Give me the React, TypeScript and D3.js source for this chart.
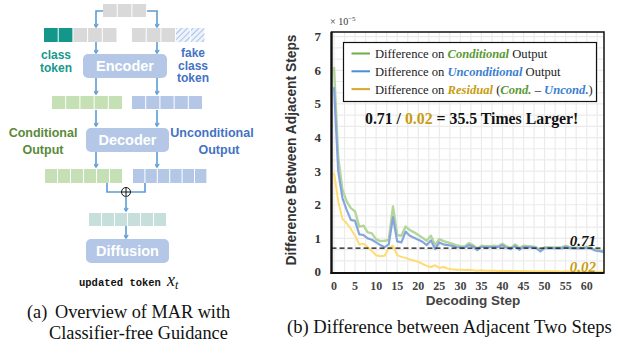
import React from 'react';
import * as d3 from 'd3';

// chart (b): difference between adjacent decoding steps, in units of 1e-5
const condValues = [
  6.1, 3.4, 2.45, 2.1, 1.9, 1.8, 1.35, 1.38, 1.18, 1.15, 0.97, 0.92, 0.93, 0.95, 1.95, 1.1, 1.08,
  1.35, 1.25, 1.18, 1.1, 1.02, 0.93, 1.08, 0.8, 0.98, 0.92, 0.88, 0.84, 0.8, 0.77, 0.76, 0.86,
  0.8, 0.7, 0.78, 0.77, 0.77, 0.78, 0.77, 0.84, 0.76, 0.72, 0.82, 0.72, 0.78, 0.77, 0.76, 0.74,
  0.64, 0.74, 0.74, 0.73, 0.73, 0.73, 0.78, 0.74, 0.72, 0.72, 0.72, 0.75, 0.72, 0.66, 0.64, 0.62,
];
const uncondValues = [
  5.5, 3.0, 2.2, 1.85, 1.55, 1.52, 1.12, 1.1, 1.0, 0.96, 0.88, 0.8, 0.74, 0.82, 1.63, 0.91, 0.88,
  1.2, 1.08, 1.02, 0.96, 0.9, 0.8, 0.94, 0.68, 0.88, 0.82, 0.8, 0.78, 0.74, 0.73, 0.72, 0.8,
  0.76, 0.65, 0.75, 0.73, 0.74, 0.74, 0.74, 0.8, 0.72, 0.68, 0.78, 0.66, 0.75, 0.74, 0.73, 0.71,
  0.61, 0.71, 0.71, 0.71, 0.7, 0.7, 0.75, 0.71, 0.7, 0.7, 0.7, 0.72, 0.7, 0.64, 0.62, 0.6,
];
const residualValues = [
  2.95, 2.1, 1.58, 1.45, 1.28, 1.08, 0.82, 0.84, 0.74, 0.62, 0.5, 0.47, 0.48, 0.72, 0.78, 0.5, 0.45,
  0.42, 0.37, 0.34, 0.3, 0.24, 0.18, 0.15, 0.2, 0.12, 0.15, 0.1, 0.08, 0.07, 0.07, 0.06, 0.07,
  0.05, 0.04, 0.05, 0.04, 0.04, 0.04, 0.03, 0.04, 0.03, 0.03, 0.03, 0.02, 0.03, 0.02, 0.02, 0.02,
  0.02, 0.02, 0.02, 0.02, 0.02, 0.01, 0.02, 0.01, 0.01, 0.01, 0.01, 0.01, 0.01, 0.01, 0.01, 0.01,
];
const meanDiff = 0.71;
const xTicks = [0, 5, 10, 15, 20, 25, 30, 35, 40, 45, 50, 55, 60];
const yTicks = [0, 1, 2, 3, 4, 5, 6, 7];

// diagram (a) token rows
const topRow = ['grey', 'grey', 'grey'];
const condInRow = ['teal', 'teal', 'grey', 'grey', 'grey'];
const uncondInRow = ['grey', 'grey', 'grey', 'hatch', 'hatch'];

const serif = "'Liberation Serif', 'Times New Roman', serif";
const sans = "'Liberation Sans', Arial, sans-serif";
const arrowBlue = '#5b9bd5';
const cellColor: Record<string, string> = {
  grey: '#d9d9d9',
  teal: '#13978b',
  green: '#c5e0b4',
  blue: '#b4c7e7',
  mint: '#c7dfdb',
  hatch: 'url(#hatch)',
};

const Cells = ({ x0, y0, w, h, kinds }: { x0: number; y0: number; w: number; h: number; kinds: string[] }) => (
  <g>
    {kinds.map((k, i) => (
      <rect key={i} x={x0 + i * w} y={y0} width={w - 1} height={h} fill={cellColor[k]} />
    ))}
  </g>
);

const Arrow = ({ d }: { d: string }) => (
  <path d={d} fill="none" stroke={arrowBlue} strokeWidth={1.6} markerEnd="url(#head)" />
);

const Box = ({ x, y, w, h, label }: { x: number; y: number; w: number; h: number; label: string }) => (
  <g>
    <rect x={x} y={y} width={w} height={h} rx={5} fill="#b4c7e7" />
    <text x={x + w / 2} y={y + h / 2 + 5} textAnchor="middle" fill="#fff" fontFamily={sans}
      fontWeight="bold" fontSize={14.5}>{label}</text>
  </g>
);

export default function App() {
  const x = d3.scaleLinear().domain([-0.6, 64.1]).range([331.5, 604]);
  const y = d3.scaleLinear().domain([-0.03, 7.14]).range([273, 32]);
  const line = d3.line<number>().x((_, i) => x(i)).y(d => y(d));
  const [x0, x1] = x.range();
  const [yb, yt] = y.range();
  const vGrid = d3.range(0, 64, 2.5);
  const hGrid = d3.range(1 / 3, 7.1, 1 / 3);

  const legend = [
    { color: '#70ad47', parts: [['Difference on ', '#222', false], ['Conditional', '#5a9a34', true], [' Output', '#222', false]] },
    { color: '#4a8fd6', parts: [['Difference on ', '#222', false], ['Unconditional', '#3b7fcf', true], [' Output', '#222', false]] },
    { color: '#d9a72a', parts: [['Difference on ', '#222', false], ['Residual', '#c99b12', true], [' (', '#222', false],
      ['Cond.', '#5a9a34', true], [' – ', '#222', false], ['Uncond.', '#3b7fcf', true], [')', '#222', false]] },
  ] as { color: string; parts: [string, string, boolean][] }[];

  return (
    <svg width={620} height={345} style={{ position: 'absolute', left: 0, top: 0, background: '#fff' }}>
      <defs>
        <pattern id="hatch" width={4} height={4} patternUnits="userSpaceOnUse" patternTransform="rotate(45)">
          <rect width={4} height={4} fill="#eef3fb" />
          <line x1={0} y1={0} x2={0} y2={4} stroke="#a8c3ea" strokeWidth={2} />
        </pattern>
        <marker id="head" viewBox="0 0 8 8" refX={6} refY={4} markerWidth={5} markerHeight={5} orient="auto"
          markerUnits="userSpaceOnUse">
          <path d="M1,0.5 L6.5,4 L1,7.5" fill="none" stroke={arrowBlue} strokeWidth={1.8} />
        </marker>
      </defs>

      {/* (a) diagram */}
      <Cells x0={103} y0={4} w={14.7} h={13} kinds={topRow} />
      <Arrow d="M103,11 H96 V27" />
      <Arrow d="M147,11 H157 V27" />
      <Cells x0={44} y0={28} w={14.7} h={14} kinds={condInRow} />
      <Cells x0={132} y0={28} w={14.7} h={14} kinds={uncondInRow} />
      <text fontFamily={sans} fontWeight="bold" fontSize={12} fill="#16998c" textAnchor="middle">
        <tspan x={56} y={59}>class</tspan>
        <tspan x={56} y={71.5}>token</tspan>
      </text>
      <text fontFamily={sans} fontWeight="bold" fontSize={12} fill="#4472c4" textAnchor="middle">
        <tspan x={193} y={57}>fake</tspan>
        <tspan x={193} y={69.5}>class</tspan>
        <tspan x={193} y={82}>token</tspan>
      </text>
      <Arrow d="M96,42 V53" />
      <Arrow d="M157,42 V53" />
      <Box x={83} y={54} w={84} h={24} label="Encoder" />
      <Arrow d="M96,78 V94" />
      <Arrow d="M157,78 V94" />
      <Cells x0={52} y0={96} w={14.2} h={13} kinds={d3.range(5).map(() => 'green')} />
      <Cells x0={132} y0={96} w={14.2} h={13} kinds={d3.range(5).map(() => 'blue')} />
      <Arrow d="M96,110 V126" />
      <Arrow d="M157,110 V126" />
      <text fontFamily={sans} fontWeight="bold" fontSize={12.5} fill="#5a8a3a" textAnchor="middle">
        <tspan x={43} y={137}>Conditional</tspan>
        <tspan x={43} y={154}>Output</tspan>
      </text>
      <text fontFamily={sans} fontWeight="bold" fontSize={12.5} fill="#4472c4" textAnchor="middle">
        <tspan x={212} y={137}>Unconditional</tspan>
        <tspan x={219} y={154}>Output</tspan>
      </text>
      <Box x={86} y={128} w={83} h={24} label="Decoder" />
      <Arrow d="M96,152 V167" />
      <Arrow d="M157,152 V167" />
      <Cells x0={45} y0={169} w={13} h={14} kinds={d3.range(6).map(() => 'green')} />
      <Cells x0={133} y0={169} w={12.4} h={14} kinds={d3.range(6).map(() => 'blue')} />
      <path d="M107,183 V192 H121.5 M145,183 V192 H130.5" fill="none" stroke={arrowBlue} strokeWidth={1.6} />
      <circle cx={126} cy={192} r={4.5} fill="#fff" stroke="#111" strokeWidth={1} />
      <path d="M126,188 V196 M122,192 H130" stroke="#111" strokeWidth={1} />
      <Arrow d="M126,196.5 V211" />
      <Cells x0={89} y0={213} w={13} h={13} kinds={d3.range(6).map(() => 'mint')} />
      <Arrow d="M126,226 V238" />
      <Box x={86} y={239} w={83} h={24} label="Diffusion" />
      <text x={79} y={286} fontFamily="'Liberation Mono', 'DejaVu Sans Mono', monospace" fontWeight="bold"
        fontSize={10.5} fill="#111">updated token</text>
      <text x={167} y={286} fontFamily={serif} fontStyle="italic" fontSize={18} fill="#111">
        x<tspan fontSize={12} dy={3}>t</tspan>
      </text>
      <text fontFamily={serif} fontSize={18.3} fill="#111">
        <tspan x={27} y={318}>(a)</tspan>
        <tspan x={55} y={318}>Overview of MAR with</tspan>
        <tspan x={49} y={339}>Classifier-free Guidance</tspan>
      </text>

      {/* (b) chart */}
      <g>
        {vGrid.map(v => (
          <line key={'v' + v} x1={x(v)} x2={x(v)} y1={yt} y2={yb} stroke="#ebebeb" strokeWidth={1.2} />
        ))}
        {hGrid.map(v => (
          <line key={'h' + v} x1={x0} x2={x1} y1={y(v)} y2={y(v)} stroke="#ebebeb" strokeWidth={1.2} />
        ))}
      </g>
      <path d={line(condValues) ?? ''} fill="none" stroke="#b3d69a" strokeWidth={2.4} strokeLinejoin="round" />
      <path d={line(uncondValues) ?? ''} fill="none" stroke="#85a6dc" strokeWidth={2.2} strokeLinejoin="round" />
      <path d={line(residualValues) ?? ''} fill="none" stroke="#ffdb70" strokeWidth={2} strokeLinejoin="round" />
      <line x1={x0} x2={x1} y1={y(meanDiff)} y2={y(meanDiff)} stroke="#111" strokeWidth={1.3} strokeDasharray="5,3" />
      <rect x={x0} y={yt} width={x1 - x0} height={yb - yt} fill="none" stroke="#111" strokeWidth={1.5} />
      <line x1={x0} x2={x0} y1={yt} y2={yb + 1} stroke="#111" strokeWidth={2.2} />
      <line x1={x0 - 1} x2={x1} y1={yb} y2={yb} stroke="#111" strokeWidth={2.2} />

      {yTicks.map(t => (
        <text key={t} x={321} y={y(t) + 4.5} textAnchor="end" fontFamily={serif} fontWeight="bold"
          fontSize={13} fill="#333">{t}</text>
      ))}
      {xTicks.map(t => (
        <text key={t} x={x(t)} y={290} textAnchor="middle" fontFamily={serif} fontWeight="bold"
          fontSize={12} fill="#444">{t}</text>
      ))}
      <text x={330} y={25} fontFamily={serif} fontSize={10} fill="#333">
        × 10<tspan fontSize={7} dy={-4}>−5</tspan>
      </text>
      <text transform="translate(296,150) rotate(-90)" textAnchor="middle" fontFamily={sans} fontWeight="bold"
        fontSize={13.8} fill="#333">Difference Between Adjacent Steps</text>
      <text x={473} y={305} textAnchor="middle" fontFamily={sans} fontWeight="bold" fontSize={13.5}
        fill="#444">Decoding Step</text>

      <rect x={343.5} y={42.5} width={253} height={59} fill="#fff" stroke="#111" strokeWidth={1.2} />
      {legend.map((l, i) => (
        <g key={i}>
          <line x1={351.5} x2={370} y1={53.5 + i * 17.8} y2={53.5 + i * 17.8} stroke={l.color} strokeWidth={2} />
          <text x={375} y={58 + i * 17.8} fontFamily={serif} fontSize={12.6}>
            {l.parts.map(([s, c, it], j) => (
              <tspan key={j} fill={c} fontStyle={it ? 'italic' : 'normal'} fontWeight={it ? 'bold' : 'normal'}>{s}</tspan>
            ))}
          </text>
        </g>
      ))}
      <text x={365} y={124} fontFamily={serif} fontWeight="bold" fontSize={15.8} fill="#111">
        0.71 / <tspan fill="#c99b12">0.02</tspan> = 35.5 Times Larger!
      </text>
      <text x={596} y={246} textAnchor="end" fontFamily={serif} fontWeight="bold" fontStyle="italic" fontSize={15}
        fill="#111">0.71</text>
      <text x={596} y={272} textAnchor="end" fontFamily={serif} fontWeight="bold" fontStyle="italic" fontSize={15}
        fill="#c99b12">0.02</text>

      <text x={287} y={333} fontFamily={serif} fontSize={18.6} fill="#111">(b) Difference between Adjacent Two Steps</text>
    </svg>
  );
}
